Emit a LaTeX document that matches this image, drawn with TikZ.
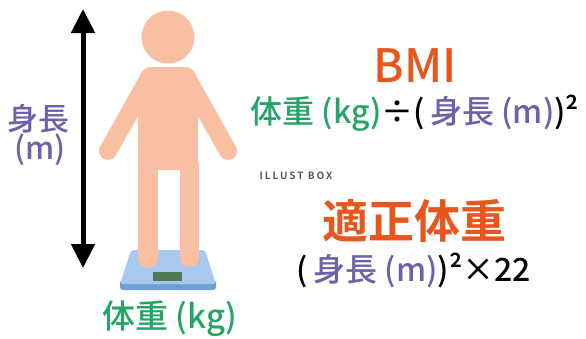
\documentclass[tikz,border=0pt]{standalone}
\usepackage{fontspec}
\setmainfont{Noto Sans CJK JP}[UprightFont={Noto Sans CJK JP Medium},BoldFont={Noto Sans CJK JP Bold}]
\usetikzlibrary{arrows.meta}
\definecolor{hada}{HTML}{F8BFA2}
\definecolor{midori}{HTML}{23A565}
\definecolor{murasaki}{HTML}{6D62AA}
\definecolor{daidai}{HTML}{E8561E}
\definecolor{sora}{HTML}{A9C8EE}
\definecolor{ao}{HTML}{6F9ED6}
\definecolor{hyoji}{HTML}{4F7A55}
\tikzset{
  moji/.style={inner sep=0pt,font=\fontsize{31}{31}\selectfont},
  shiki/.style={inner sep=0pt,font=\fontsize{32}{32}\selectfont},
  midashi/.style={inner sep=0pt,text=daidai,font=\fontsize{46}{46}\selectfont},
}
\begin{document}
\begin{tikzpicture}[x=1pt,y=-1pt,>={Triangle[width=23pt,length=24pt]}]
			\useasboundingbox[fill=white] (0,0) rectangle (586,338);
			% height arrow
			\coordinate (ue) at (83,9);
			\coordinate (shita) at (83,268);
			\draw[<->,line width=5pt](ue)--(shita);
			\node[moji,text=murasaki] (shincho) at (39,119) {身長};
			\node[moji,text=murasaki] (meter) at (40,150) {(m)};
			% scale
			\fill[ao,rounded corners=3pt](120,280)--(216,280)--(216,290)--(120,290)--cycle;
			\fill[sora,rounded corners=3pt](131,250)--(205,250)--(216,284)--(120,284)--cycle;
			\fill[hyoji](153,272)rectangle(182,281);
			% person
			\fill[hada](168,37)circle(26.5pt);
			\fill[hada,rounded corners=6pt](148,67)--(188,67)--(198,88)--(198,170)--(138,170)--(138,88)--cycle;
			\draw[hada,line width=18pt,line cap=round](150,76)--(108,151);
			\draw[hada,line width=18pt,line cap=round](186,76)--(228,151);
			\draw[hada,line width=20pt,line cap=round](148,165)--(148,258);
			\draw[hada,line width=19pt,line cap=round](189,165)--(189,258);
			\node[moji,text=midori,font=\fontsize{33}{33}\selectfont] (taiju) at (170,319) {体重 (kg)};
			% formulas
			\node[midashi] (bmi) at (415,66) {BMI};
			\node[shiki] (bmishiki) at (415,113) {\textcolor{midori}{体重 (kg)}÷(\,\textcolor{murasaki}{身長 (m)})²};
			\node[inner sep=0pt,text=black!65,font=\fontsize{10}{10}\selectfont\bfseries\addfontfeature{LetterSpace=20}] (logo) at (296,176) {ILLUST BOX};
			\node[midashi,font=\fontsize{46}{46}\selectfont\bfseries] (tekisei) at (414,221) {適正体重};
			\node[shiki] (tekiseishiki) at (414,270) {(\,\textcolor{murasaki}{身長 (m)})²×22};
		\end{tikzpicture}
\end{document}
